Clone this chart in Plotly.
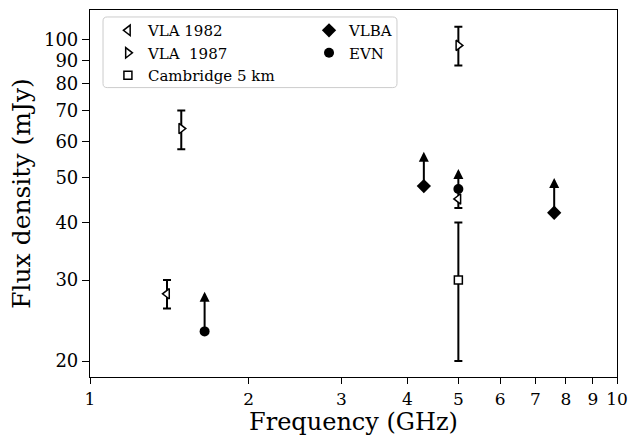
import numpy as np
import plotly.graph_objects as go

# ---- data ----
vla82_freq = [1.40, 5.0]
vla82_flux = [28.0, 45.0]
vla82_err = [2.0, 2.0]

vla87_freq = [1.49, 5.0]
vla87_flux = [64.0, 97.0]
vla87_err_plus = [6.0, 9.5]
vla87_err_minus = [6.3, 9.3]

cam_freq = [5.0]
cam_flux = [30.0]
cam_err = [10.0]

vlba_freq = [4.30, 7.6]
vlba_flux = [48.0, 42.0]
vlba_tip = [57.0, 50.0]

evn_freq = [1.65, 5.0]
evn_flux = [23.2, 47.3]
evn_tip = [28.3, 52.3]

x_ticks = [1, 2, 3, 4, 5, 6, 7, 8, 9, 10]
y_ticks = [20, 30, 40, 50, 60, 70, 80, 90, 100]

SERIF = "DejaVu Serif"

fig = go.Figure()

eb = dict(type="data", thickness=2, width=4, color="black")

fig.add_trace(go.Scatter(
    x=vla82_freq, y=vla82_flux, mode="markers", name="VLA 1982", legend="legend",
    error_y=dict(array=vla82_err, **eb),
    marker=dict(symbol="triangle-left", size=9, color="white",
                line=dict(color="black", width=1.5))))
fig.add_trace(go.Scatter(
    x=vla87_freq, y=vla87_flux, mode="markers", name="VLA  1987", legend="legend",
    error_y=dict(array=vla87_err_plus, arrayminus=vla87_err_minus, **eb),
    marker=dict(symbol="triangle-right", size=9, color="white",
                line=dict(color="black", width=1.5))))
fig.add_trace(go.Scatter(
    x=cam_freq, y=cam_flux, mode="markers", name="Cambridge 5 km", legend="legend",
    error_y=dict(array=cam_err, **eb),
    marker=dict(symbol="square", size=8, color="white",
                line=dict(color="black", width=1.5))))
fig.add_trace(go.Scatter(
    x=vlba_freq, y=vlba_flux, mode="markers", name="VLBA", legend="legend2",
    marker=dict(symbol="diamond", size=11, color="black",
                line=dict(color="black", width=0))))
fig.add_trace(go.Scatter(
    x=evn_freq, y=evn_flux, mode="markers", name="EVN", legend="legend2",
    marker=dict(symbol="circle", size=10, color="black",
                line=dict(color="black", width=0))))

# lower-limit arrows
for f, v, t in list(zip(vlba_freq, vlba_flux, vlba_tip)) + list(zip(evn_freq, evn_flux, evn_tip)):
    fig.add_annotation(x=np.log10(f), y=np.log10(t), ax=np.log10(f), ay=np.log10(v),
                       xref="x", yref="y", axref="x", ayref="y", text="",
                       showarrow=True, arrowhead=2, arrowsize=1, arrowwidth=2,
                       arrowcolor="black", standoff=0, startstandoff=0)

fig.update_xaxes(type="log", range=[0, 1], tickvals=x_ticks,
                 ticktext=[str(t) for t in x_ticks],
                 ticks="outside", ticklen=6, tickwidth=1.2, tickcolor="black",
                 showline=True, linecolor="black", linewidth=1.2, mirror=True,
                 showgrid=False, zeroline=False,
                 tickfont=dict(family=SERIF, size=17, color="black"),
                 title=dict(text="Frequency (GHz)", standoff=2,
                            font=dict(family=SERIF, size=24, color="black")))
fig.update_yaxes(type="log", range=[1.2664, 2.0637], tickvals=y_ticks,
                 ticktext=[str(t) for t in y_ticks],
                 ticks="outside", ticklen=7, tickwidth=1.2, tickcolor="black",
                 showline=True, linecolor="black", linewidth=1.2, mirror=True,
                 showgrid=False, zeroline=False,
                 tickfont=dict(family=SERIF, size=18, color="black"),
                 title=dict(text="Flux density (mJy)", standoff=6,
                            font=dict(family=SERIF, size=25, color="black")))

# legend frame (rounded rectangle, paper coords)
x0, x1, y0, y1 = 0.0247, 0.5825, 0.7886, 0.981
rx, ry = 0.008, 0.011
path = (f"M {x0+rx},{y0} L {x1-rx},{y0} Q {x1},{y0} {x1},{y0+ry} "
        f"L {x1},{y1-ry} Q {x1},{y1} {x1-rx},{y1} L {x0+rx},{y1} "
        f"Q {x0},{y1} {x0},{y1-ry} L {x0},{y0+ry} Q {x0},{y0} {x0+rx},{y0} Z")
fig.add_shape(type="path", path=path, xref="paper", yref="paper",
              line=dict(color="#cccccc", width=1), fillcolor="white", layer="below")

legend_common = dict(orientation="v", yanchor="top", xanchor="left",
                     bgcolor="rgba(0,0,0,0)", borderwidth=0,
                     font=dict(family=SERIF, size=15, color="black"),
                     tracegroupgap=0)

fig.update_layout(
    width=639, height=436,
    margin=dict(l=90, r=22, t=9, b=58),
    plot_bgcolor="white", paper_bgcolor="white",
    showlegend=True,
    legend=dict(x=0.034, y=0.989, **legend_common),
    legend2=dict(x=0.4156, y=0.989, **legend_common),
)

fig.write_html("out.html", config={"displayModeBar": False},
               post_script="document.body.style.margin='0px';")
